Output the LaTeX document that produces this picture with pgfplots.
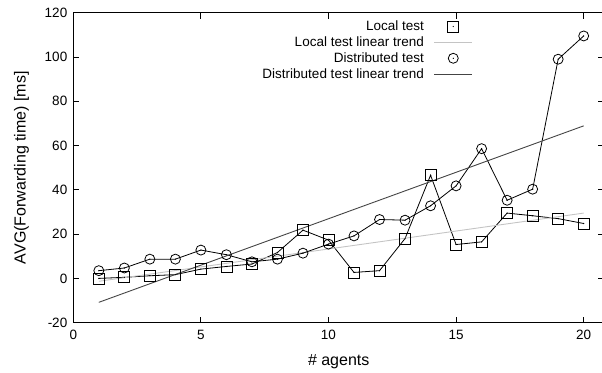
\documentclass[border=0pt]{standalone}
\usepackage{fontspec}
\setmainfont{Liberation Sans}
\usepackage{pgfplots}
\pgfplotsset{compat=1.18}
\pgfdeclareplotmark{sqdot}{%
  \pgfpathrectangle{\pgfpoint{-\pgfplotmarksize}{-\pgfplotmarksize}}{\pgfpoint{2\pgfplotmarksize}{2\pgfplotmarksize}}%
  \pgfusepathqstroke
  \pgfpathcircle{\pgfpointorigin}{0.7pt}\pgfusepathqfill}
\pgfdeclareplotmark{circdot}{%
  \pgfpathcircle{\pgfpointorigin}{\pgfplotmarksize}%
  \pgfusepathqstroke
  \pgfpathcircle{\pgfpointorigin}{0.7pt}\pgfusepathqfill}
\pgfplotsset{
  marklegend/.style={legend image code/.code={\path[draw=none,fill=none] (0pt,0pt) rectangle (37.5pt,0.1pt);\draw[##1] plot coordinates {(19pt,0pt)};}},
  linelegend/.style={legend image code/.code={\draw[##1] (0pt,0pt) -- (37.5pt,0pt);}},
}
\definecolor{lighttrend}{HTML}{C4C4C4}
\definecolor{darktrend}{HTML}{444444}
\begin{document}
\begin{tikzpicture}
\begin{axis}[
  name=ax,
  scale only axis,
  width=530.8pt, height=310pt,
  xmin=0, xmax=20.8, ymin=-20, ymax=120,
  xtick={0,5,10,15,20}, ytick={-20,0,20,40,60,80,100,120},
  /pgf/number format/assume math mode=true,
  ticklabel style={font=\fontsize{13.5}{16}\selectfont},
  xticklabel style={yshift=-4pt},
  yticklabel style={xshift=-2.5pt},
  major tick length=6pt,
  tick style={black, line width=0.8pt},
  axis line style={black, line width=1.3pt},
  xlabel={\# agents}, ylabel={AVG(Forwarding time) [ms]},
  label style={font=\fontsize{16}{19}\selectfont},
  xlabel style={yshift=-8pt},
  ylabel style={yshift=9pt},
  legend plot pos=right,
  legend cell align=right,
  legend style={at={(axis cs:15.64,117.3)}, anchor=north east, draw=none, fill=none,
    font=\fontsize{13.5}{15.5}\selectfont, inner sep=0pt, row sep=0.6pt, column sep=8pt},
]
\addplot[black, line width=0.8pt, mark=sqdot, mark size=5.5pt, marklegend]
  coordinates {(1,0) (2,0.5) (3,1.2) (4,1.7) (5,4.2) (6,5.4) (7,6.5) (8,11.7) (9,21.8) (10,17.3)
  (11,2.7) (12,3.5) (13,18) (14,46.6) (15,15.3) (16,16.5) (17,29.5) (18,28.3) (19,27) (20,24.8)};
\addlegendentry{Local test}
\addplot[lighttrend, line width=0.9pt, linelegend]
  coordinates {(1,-1.3) (20,29.5)};
\addlegendentry{Local test linear trend}
\addplot[black, line width=0.8pt, mark=circdot, mark size=5pt, marklegend]
  coordinates {(1,3.5) (2,4.7) (3,8.7) (4,8.7) (5,12.8) (6,10.7) (7,7.5) (8,8.7) (9,11.4) (10,15.5)
  (11,19.2) (12,26.6) (13,26.3) (14,32.8) (15,41.8) (16,58.6) (17,35.3) (18,40.3) (19,99) (20,109.5)};
\addlegendentry{Distributed test}
\addplot[darktrend, line width=0.9pt, linelegend]
  coordinates {(1,-10.8) (20,68.9)};
\addlegendentry{Distributed test linear trend}
\end{axis}
\pgfresetboundingbox
\path[use as bounding box] ([xshift=-73.3pt,yshift=-49.3pt]ax.south west) rectangle ([xshift=528.7pt,yshift=322.7pt]ax.south west);
\end{tikzpicture}
\end{document}
